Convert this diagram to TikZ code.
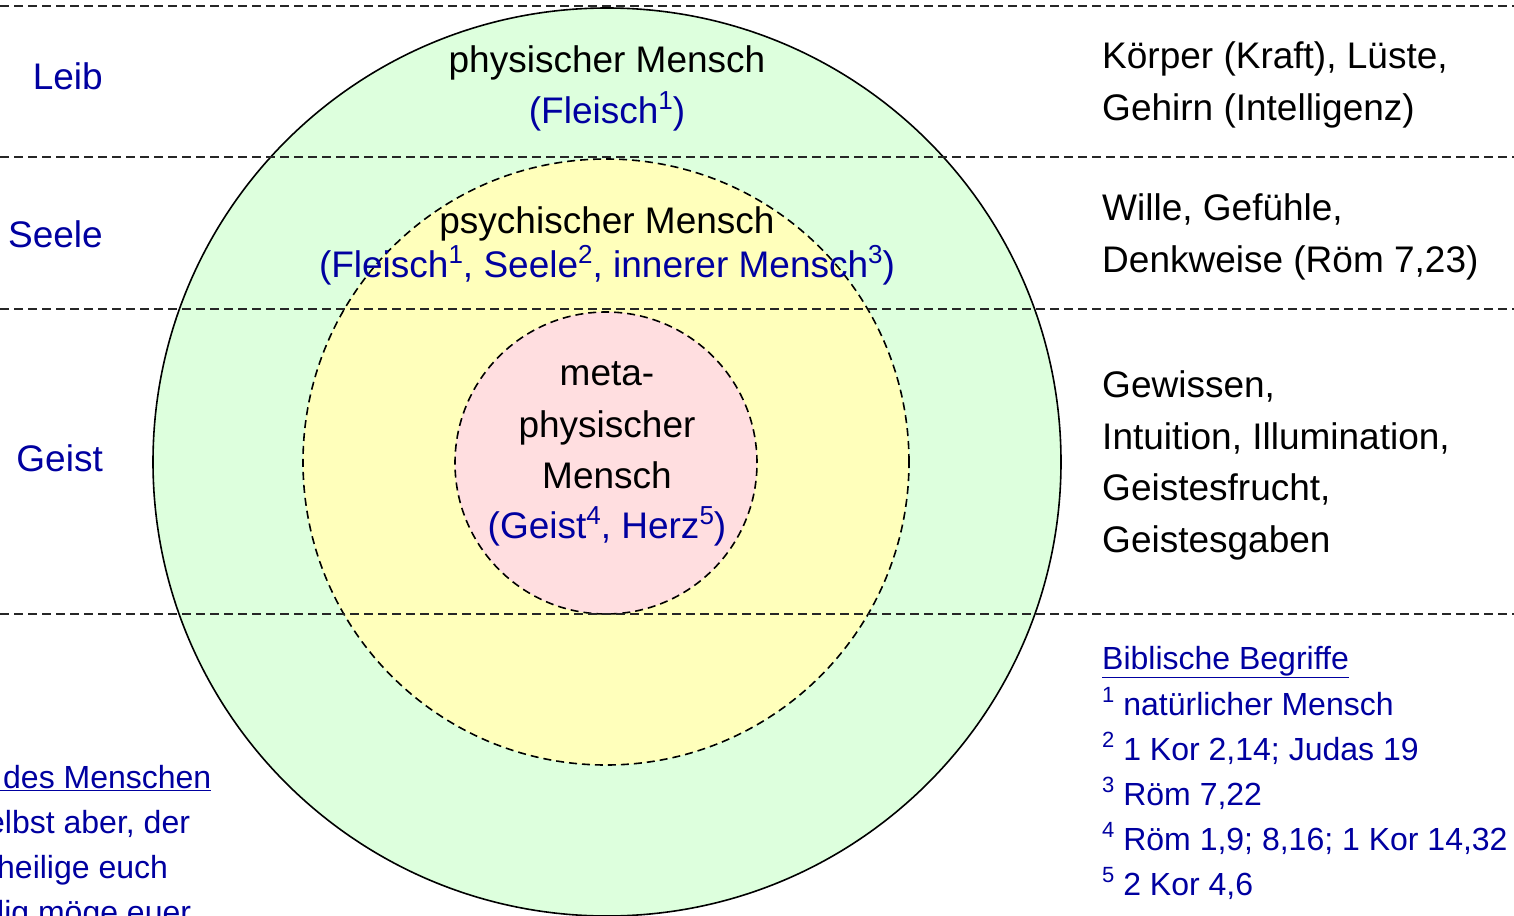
\documentclass[tikz,border=0pt]{standalone}
\usepackage{fontspec}
\setmainfont{Liberation Sans}
\definecolor{bl}{RGB}{0,0,160}
\definecolor{grn}{RGB}{221,255,221}
\definecolor{yel}{RGB}{255,255,187}
\definecolor{pnk}{RGB}{255,222,224}
\newcommand\supbig[1]{\raisebox{14pt}{\fontsize{26}{26}\selectfont #1}}
\newcommand\supsmall[1]{\raisebox{13pt}{\fontsize{22}{22}\selectfont #1}}
\begin{document}
\begin{tikzpicture}[x=1pt,y=-1pt,
  big/.style={font=\fontsize{37}{44}\selectfont, inner sep=0pt, anchor=base},
  bigl/.style={big, anchor=base west},
  lbl/.style={big, anchor=base east, text=bl},
  small/.style={font=\fontsize{32}{38}\selectfont, inner sep=0pt, anchor=base west, text=bl},
  ring/.style={circle, inner sep=0pt, line width=1.6pt},
  sep/.style={line width=1.5pt, dash pattern=on 9pt off 5pt, black!85}]
\useasboundingbox (0,0) rectangle (1514,915);
\clip (0,0) rectangle (1514,915);
% circles
\node[ring, draw, fill=grn, minimum size=908pt] (outer) at (607,462) {};
\node[ring, draw, dash pattern=on 8pt off 5pt, fill=yel, minimum size=606pt] (mid) at (606,462) {};
\node[ring, draw, dash pattern=on 8pt off 5pt, fill=pnk, minimum size=302pt] (inner) at (606,463) {};
% separators
\coordinate (l1a) at (0,6);   \coordinate (l1b) at (1514,6);
\coordinate (l2a) at (0,157); \coordinate (l2b) at (1514,157);
\coordinate (l3a) at (0,309); \coordinate (l3b) at (1514,309);
\coordinate (l4a) at (0,614); \coordinate (l4b) at (1514,614);
\draw[sep] (l1a) -- (l1b);
\draw[sep] (l2a) -- (l2b);
\draw[sep] (l3a) -- (l3b);
\draw[sep] (l4a) -- (l4b);
% left labels
\node[lbl] (leib) at (103,90) {Leib};
\node[lbl] (seele) at (103,247) {Seele};
\node[lbl] (geist) at (103,471) {Geist};
% centre texts
\node[big] (c1) at (607,73) {physischer Mensch};
\node[big, text=bl] (c2) at (607,124) {(Fleisch\supbig{1})};
\node[big] (c3) at (607,233) {psychischer Mensch};
\node[big, text=bl] (c4) at (607,277) {(Fleisch\supbig{1}, Seele\supbig{2}, innerer Mensch\supbig{3})};
\node[big] (c5) at (607,385) {meta-};
\node[big] (c6) at (607,437) {physischer};
\node[big] (c7) at (607,488) {Mensch};
\node[big, text=bl] (c8) at (607,538) {(Geist\supbig{4}, Herz\supbig{5})};
% right texts
\node[bigl] (r1) at (1102,69) {Körper (Kraft), Lüste,};
\node[bigl] (r2) at (1102,121) {Gehirn (Intelligenz)};
\node[bigl] (r3) at (1102,220) {Wille, Gefühle,};
\node[bigl] (r4) at (1102,272) {Denkweise (Röm 7,23)};
\node[bigl] (r5) at (1102,397) {Gewissen,};
\node[bigl] (r6) at (1102,449) {Intuition, Illumination,};
\node[bigl] (r7) at (1102,500) {Geistesfrucht,};
\node[bigl] (r8) at (1102,552) {Geistesgaben};
% footnotes
\node[small] (f0) at (1102,669) {\underline{Biblische Begriffe}};
\node[small] (f1) at (1102,715) {\supsmall{1} natürlicher Mensch};
\node[small] (f2) at (1102,760) {\supsmall{2} 1 Kor 2,14; Judas 19};
\node[small] (f3) at (1102,805) {\supsmall{3} Röm 7,22};
\node[small] (f4) at (1102,850) {\supsmall{4} Röm 1,9; 8,16; 1 Kor 14,32};
\node[small] (f5) at (1102,895) {\supsmall{5} 2 Kor 4,6};
% left bottom (cut off at the picture's edge, as in the reference)
\node[small] (b0) at (-8,788) {\underline{\hspace{11pt}des Menschen}};
\node[small] (b1) at (-13,833) {elbst aber, der};
\node[small] (b2) at (-3,878) {heilige euch};
\node[small] (b3) at (-3,923) {lig möge euer};
\end{tikzpicture}
\end{document}
